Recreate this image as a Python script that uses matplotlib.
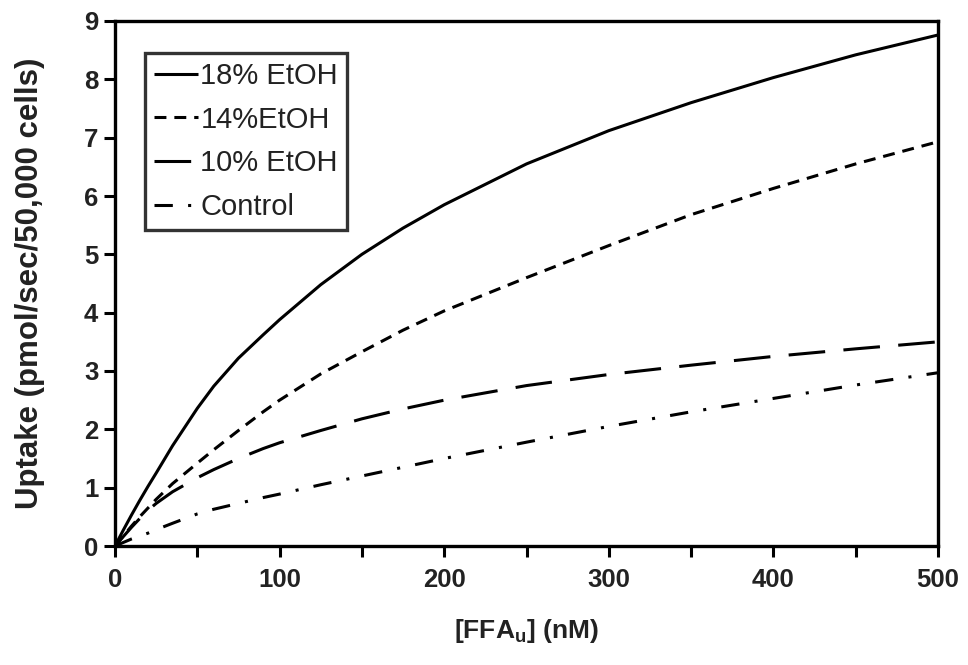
import matplotlib
matplotlib.use("Agg")
import matplotlib.pyplot as plt
from matplotlib.ticker import MultipleLocator

plt.rcParams['font.family'] = ['Liberation Sans', 'DejaVu Sans']

# FFAu concentration (nM)
ffa = [0, 5, 10, 15, 20, 25, 35, 50, 60, 75, 90, 100, 125, 150, 175, 200, 250, 300, 350, 400, 450, 500]

# Uptake (pmol/sec/50,000 cells)
etoh18 = [0, 0.27, 0.53, 0.78, 1.02, 1.25, 1.72, 2.36, 2.74, 3.22, 3.62, 3.88, 4.48, 5.00, 5.45, 5.85, 6.55, 7.12, 7.60, 8.03, 8.42, 8.76]
etoh14 = [0, 0.17, 0.34, 0.50, 0.65, 0.80, 1.07, 1.42, 1.65, 1.98, 2.30, 2.50, 2.95, 3.33, 3.70, 4.03, 4.60, 5.15, 5.68, 6.13, 6.55, 6.93]
etoh10 = [0, 0.16, 0.32, 0.47, 0.61, 0.73, 0.93, 1.17, 1.31, 1.50, 1.67, 1.77, 1.98, 2.18, 2.35, 2.50, 2.75, 2.94, 3.10, 3.25, 3.38, 3.50]
control = [0, 0.06, 0.12, 0.17, 0.22, 0.28, 0.39, 0.55, 0.63, 0.73, 0.83, 0.89, 1.05, 1.20, 1.35, 1.50, 1.78, 2.05, 2.30, 2.53, 2.76, 2.97]

labels = ["18% EtOH", "14%EtOH", "10% EtOH", "Control"]

x_ticks = [0, 100, 200, 300, 400, 500]
y_ticks = [0, 1, 2, 3, 4, 5, 6, 7, 8, 9]

fig = plt.figure(figsize=(9.68, 6.65), dpi=100)
ax = fig.add_axes([115/968, (665-546)/665, (938-115)/968, (546-21)/665])

lw = 2.2
ax.plot(ffa, etoh18, color='black', lw=lw, solid_capstyle='butt', label=labels[0])
ax.plot(ffa, etoh14, color='black', lw=lw, linestyle=(0, (3.9, 2.6)), dash_capstyle='butt', label=labels[1])
ax.plot(ffa, etoh10, color='black', lw=lw, linestyle=(0, (12.0, 6.0)), dash_capstyle='butt', label=labels[2])
ax.plot(ffa, control, color='black', lw=lw, linestyle=(0, (6.0, 5.0, 1.0, 5.0)), dash_capstyle='butt', label=labels[3])

ax.set_xlim(0, 500)
ax.set_ylim(0, 9)
ax.set_xticks(x_ticks)
ax.set_yticks(y_ticks)
ax.xaxis.set_minor_locator(MultipleLocator(50))
ax.tick_params(axis='both', which='both', direction='out', length=8, width=2.2, color='black')
ax.tick_params(axis='both', which='major', labelsize=18.5, pad=4)
ax.tick_params(axis='x', which='major', pad=8)
for lab in ax.get_xticklabels() + ax.get_yticklabels():
    lab.set_fontweight('bold')
    lab.set_color('#222222')
for s in ax.spines.values():
    s.set_linewidth(2.4)
    s.set_color('black')

ax.set_xlabel(r"[FFA$_\mathregular{u}$] (nM)", fontsize=19, fontweight='bold', color='#222222', labelpad=18)
ax.set_ylabel("Uptake (pmol/sec/50,000 cells)", fontsize=22.5, fontweight='bold', color='#222222', labelpad=28)

leg = ax.legend(loc='upper left', bbox_to_anchor=(0.0365, 0.939), borderaxespad=0,
                fontsize=21, frameon=True, fancybox=False, handlelength=1.5,
                handletextpad=0.1, labelspacing=0.54, borderpad=0.3)
leg.get_frame().set_edgecolor('black')
leg.get_frame().set_linewidth(2.4)
for t in leg.get_texts():
    t.set_color('#222222')

fig.savefig("out.png", dpi=100)
